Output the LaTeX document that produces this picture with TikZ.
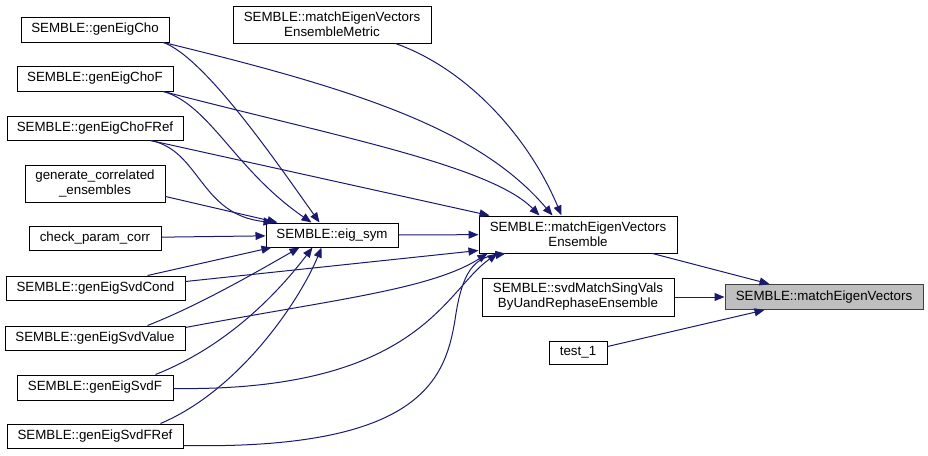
\documentclass[tikz,border=0pt]{standalone}
\usepackage{fontspec}
\setmainfont{Liberation Sans}
\usepackage{tikz}
\usetikzlibrary{arrows.meta}
\definecolor{callblue}{RGB}{25, 25, 112}
\definecolor{targetgray}{RGB}{191, 191, 191}
\definecolor{targetedge}{RGB}{64, 64, 64}

\begin{document}
\begin{tikzpicture}[x=1pt, y=-1pt,
  >={Triangle[length=10pt, width=8pt]},
  fnbox/.style={draw, line width=1pt, inner sep=0pt, align=center,
    minimum height=24pt, font=\fontsize{13.33}{15}\selectfont},
  call/.style={->, callblue, line width=1pt}]
\useasboundingbox (0,0) rectangle (928,455);

% Callers of eig_sym and matchEigenVectorsEnsemble
\node[fnbox, minimum width=148pt, minimum height=25pt] (cho) at (95,29.5) {SEMBLE::genEigCho};
\node[fnbox, minimum width=156pt, minimum height=25pt] (choF) at (95,78.5) {SEMBLE::genEigChoF};
\node[fnbox, minimum width=176pt] (choFRef) at (95,128) {SEMBLE::genEigChoFRef};
\node[fnbox, minimum width=140pt, minimum height=37pt] (gencorr) at (95,183.5) {generate\_correlated\\\_ensembles};
\node[fnbox, minimum width=132pt] (check) at (95,238) {check\_param\_corr};
\node[fnbox, minimum width=179pt] (svdCond) at (95.5,288) {SEMBLE::genEigSvdCond};
\node[fnbox, minimum width=180pt] (svdValue) at (95,338) {SEMBLE::genEigSvdValue};
\node[fnbox, minimum width=156pt, minimum height=25pt] (svdF) at (95,387.5) {SEMBLE::genEigSvdF};
\node[fnbox, minimum width=176pt] (svdFRef) at (95,436) {SEMBLE::genEigSvdFRef};

% Middle column
\node[fnbox, minimum width=132pt] (eigsym) at (332,235) {SEMBLE::eig\_sym};
\node[fnbox, minimum width=198pt, minimum height=37pt] (metric) at (332,24.5) {SEMBLE::matchEigenVectors\\EnsembleMetric};
\node[fnbox, minimum width=198pt, minimum height=37pt] (ens) at (578,234.5) {SEMBLE::matchEigenVectors\\Ensemble};
\node[fnbox, minimum width=192pt, minimum height=38pt] (svdMatch) at (578,297) {SEMBLE::svdMatchSingVals\\ByUandRephaseEnsemble};
\node[fnbox, minimum width=58pt, minimum height=23pt] (test) at (578,352.5) {test\_1};

% Target function
\node[fnbox, draw=targetedge, fill=targetgray, minimum width=198pt, minimum height=25pt] (target) at (824,297) {SEMBLE::matchEigenVectors};

% Calls into eig_sym
\draw[call] ([xshift=-6pt]cho.south east) .. controls (205,58) and (275,160) .. ([xshift=54pt]eigsym.north west);
\draw[call] ([xshift=-10pt]choF.south east) .. controls (210,105) and (235,170) .. ([xshift=46pt]eigsym.north west);
\draw[call] ([xshift=-33pt]choFRef.south east) .. controls (200,150) and (200,215) .. ([xshift=8pt]eigsym.north west);
\draw[call] ([yshift=6pt]gencorr.south east) -- ([xshift=12pt]eigsym.north west);
\draw[call] (check) -- (eigsym);
\draw[call] ([xshift=-38pt]svdCond.north east) -- ([xshift=6pt]eigsym.south west);
\draw[call] ([xshift=-38pt]svdValue.north east) .. controls (200,305) and (260,270) .. ([xshift=34pt]eigsym.south west);
\draw[call] ([xshift=-18pt]svdF.north east) .. controls (230,345) and (280,290) .. ([xshift=47pt]eigsym.south west);
\draw[call] ([xshift=-23pt]svdFRef.north east) .. controls (240,390) and (300,300) .. ([xshift=56pt]eigsym.south west);

% Calls into matchEigenVectorsEnsemble
\draw[call] ([xshift=-6pt]cho.south east) .. controls (360,90) and (480,130) .. ([xshift=74pt]ens.north west);
\draw[call] ([xshift=-10pt]choF.south east) .. controls (330,135) and (490,165) .. ([xshift=61pt]ens.north west);
\draw[call] ([xshift=-33pt]choFRef.south east) -- ([xshift=11pt]ens.north west);
\draw[call] ([xshift=-36pt]metric.south east) .. controls (470,70) and (530,140) .. ([xshift=83pt]ens.north west);
\draw[call] (eigsym) -- (ens);
\draw[call] ([yshift=-6pt]svdCond.north east) -- ([yshift=3pt]ens.south west);
\draw[call] ([yshift=-2pt]svdValue.north east) .. controls (330,300) and (430,290) .. ([xshift=9pt]ens.south west);
\draw[call] ([yshift=-14pt]svdF.north east) .. controls (420,392) and (445,290) .. ([xshift=19pt]ens.south west);
\draw[call] ([yshift=3pt]svdFRef.south east) .. controls (420,450) and (445,380) .. (455,320)
  .. controls (462,270) and (475,258) .. ([xshift=27pt]ens.south west);

% Calls into matchEigenVectors
\draw[call] ([xshift=-25pt]ens.south east) -- ([xshift=45pt]target.north west);
\draw[call] (svdMatch) -- (target);
\draw[call] ([yshift=6pt]test.east) -- ([xshift=40pt]target.south west);
\end{tikzpicture}
\end{document}
